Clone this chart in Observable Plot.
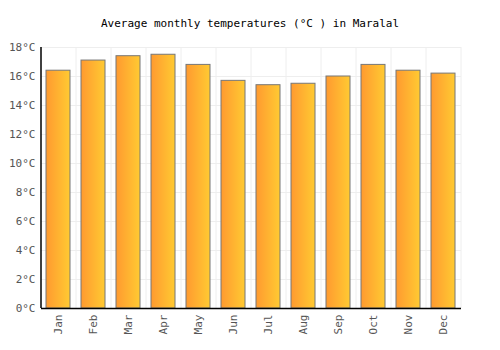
<!DOCTYPE html>
<html>
<head>
<meta charset="utf-8">
<script src="https://cdn.jsdelivr.net/npm/d3@7"></script>
<script src="https://cdn.jsdelivr.net/npm/@observablehq/plot@0.6"></script>
<style>
  body { margin: 0; background: #fff; font-family: "DejaVu Sans Mono", monospace; }
  #title { position: relative; height: 30px; text-align: center; font-size: 11px; color: #000; white-space: nowrap; }
  #title span { position: absolute; left: 0; right: 0; top: 17px; line-height: 14px; }
  #chart svg { display: block; }
</style>
</head>
<body>
<div id="title"><span>Average monthly temperatures (°C ) in Maralal</span></div>
<div id="chart"></div>
<script>
const months = ["Jan","Feb","Mar","Apr","May","Jun","Jul","Aug","Sep","Oct","Nov","Dec"];
const temps = [16.4, 17.1, 17.4, 17.5, 16.8, 15.7, 15.4, 15.5, 16.0, 16.8, 16.4, 16.2];
const yTicks = [0, 2, 4, 6, 8, 10, 12, 14, 16, 18];

const data = months.map((m, i) => ({month: m, temp: temps[i]}));

const defs = () => {
  const g = d3.create("svg:defs");
  const lg = g.append("linearGradient").attr("id", "barGrad").attr("x1", "0%").attr("x2", "100%").attr("y1", "0%").attr("y2", "0%");
  lg.append("stop").attr("offset", "0%").attr("stop-color", "#FF9A30");
  lg.append("stop").attr("offset", "100%").attr("stop-color", "#FFCA32");
  return g.node();
};

const half = 17.5;

const plot = Plot.plot({
  width: 500,
  height: 320,
  marginTop: 17,
  marginBottom: 42,
  marginLeft: 41,
  marginRight: 39,
  style: {fontFamily: "DejaVu Sans Mono, monospace", fontSize: "11px", color: "#555", background: "#fff"},
  x: {domain: months, paddingInner: 0.31, paddingOuter: 0.155, label: null},
  y: {domain: [0, 18], label: null},
  marks: [
    defs,
    Plot.gridY(yTicks, {stroke: "#eee", strokeOpacity: 1}),
    Plot.ruleX(months.slice(1), {x: d => d, dx: -half, stroke: "#eee", strokeOpacity: 1}),
    Plot.ruleX([months[11]], {x: d => d, dx: half, stroke: "#eee", strokeOpacity: 1}),
    Plot.barY(data, {x: "month", y: "temp", fill: "url(#barGrad)", stroke: "#777", strokeWidth: 1}),
    Plot.axisY({ticks: yTicks, tickFormat: d => d + "°C", tickSize: 0, tickPadding: 6, fill: "#555"}),
    Plot.axisX({tickRotate: -90, tickSize: 0, tickPadding: 6, fill: "#555"}),
    Plot.ruleY([0], {stroke: "#000", strokeWidth: 1.5}),
    Plot.ruleX([months[0]], {x: d => d, dx: -half, y1: 0, y2: 18, stroke: "#000", strokeWidth: 1.5})
  ]
});
document.getElementById("chart").appendChild(plot);
</script>
</body>
</html>
